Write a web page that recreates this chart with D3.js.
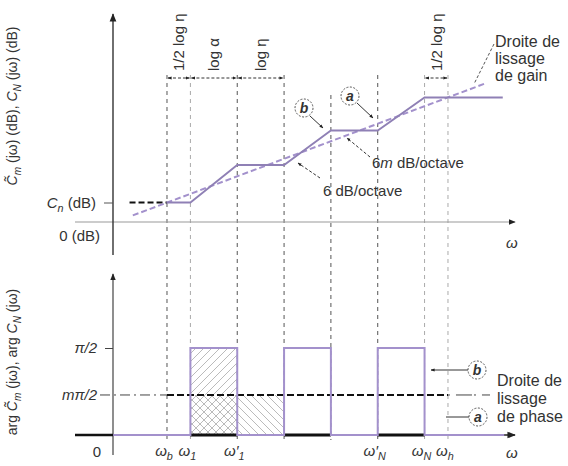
<!DOCTYPE html>
<html><head><meta charset="utf-8">
<script src="https://cdn.jsdelivr.net/npm/d3@7"></script>
<style>
body{margin:0;background:#fff;}
svg{display:block;font-family:"Liberation Sans",Arial,sans-serif;}
</style></head><body>
<script>
// ---- data (log-frequency units, log η = log α = 1) ----
const breakPos   = [0, 0.5, 1.5, 2.5, 3.5, 4.5, 5.5, 6];
const breakStyle = ["s","f","s","s","s","s","f","f"];
const axisLabels = [
  {pos:0,   base:"ω", sub:"b", prime:false},
  {pos:0.5, base:"ω", sub:"1", prime:false},
  {pos:1.5, base:"ω", sub:"1", prime:true},
  {pos:4.5, base:"ω", sub:"N", prime:true},
  {pos:5.5, base:"ω", sub:"N", prime:false},
  {pos:6,   base:"ω", sub:"h", prime:false}
];
const Cn = 6.5;                         // dB
const gainX = [0, 0.5, 1.5, 2.5, 3.5, 4.5, 5.5, 7.17];
const gainY = [Cn, Cn, 19, 19, 30.5, 30.5, 41.5, 41.5];   // asymptote (b)
const smoothX = [-0.73, 6.8];
const smoothY = [2.2, 46.2];            // droite de lissage de gain (a)
const m = 0.46;                          // phase level m·π/2 (in units of π/2)
const phaseX = [-1.15, 0.5, 0.5, 1.5, 1.5, 2.5, 2.5, 3.5, 3.5, 4.5, 4.5, 5.5, 5.5, 7.2];
const phaseY = [0, 0, 1, 1, 0, 0, 1, 1, 0, 0, 1, 1, 0, 0];
const stepIntervals = [[0.5,1.5],[2.5,3.5],[4.5,5.5]];
const brackets = [
  {from:0,   to:0.5, label:"1/2 log η"},
  {from:0.5, to:1.5, label:"log α"},
  {from:1.5, to:2.5, label:"log η"},
  {from:5.5, to:6,   label:"1/2 log η"}
];

const W = 568, H = 466;
const PURPLE = "#a391cc";
const svg = d3.select("body").append("svg").attr("width", W).attr("height", H);
const defs = svg.append("defs");
function arrowMarker(id, size){
  defs.append("marker").attr("id", id).attr("viewBox","0 0 10 10").attr("refX",9).attr("refY",5)
    .attr("markerWidth", size).attr("markerHeight", size).attr("orient","auto-start-reverse")
    .append("path").attr("d","M0,1 L10,5 L0,9 Z").attr("fill","#222");
}
arrowMarker("ar", 6); arrowMarker("arS", 4);
function hatch(id, dir){
  const p = defs.append("pattern").attr("id", id).attr("patternUnits","userSpaceOnUse")
    .attr("width", 8).attr("height", 8);
  p.append("path").attr("d", dir > 0 ? "M-1,9 L9,-1 M-2,2 L2,-2 M6,10 L10,6" : "M-1,-1 L9,9 M-2,6 L2,10 M6,-2 L10,2")
    .attr("stroke", "#aaa").attr("stroke-width", 0.8);
}
hatch("hatchUp", 1); hatch("hatchDown", -1);

const x = d3.scaleLinear().domain([-1.153, 7.474]).range([113, 517]);
const yG = d3.scaleLinear().domain([0, 60]).range([222, 42]);
const yP = d3.scaleLinear().domain([0, 1]).range([435, 348]);

// ---- vertical dashed break lines ----
svg.append("g").selectAll("line").data(breakPos).join("line")
  .attr("x1", d => x(d)).attr("x2", d => x(d))
  .attr("y1", (d,i) => i === 4 ? 95 : 75).attr("y2", 440)
  .attr("stroke", (d,i) => breakStyle[i] === "s" ? "#555" : "#aaa")
  .attr("stroke-width", 1).attr("stroke-dasharray", "4,4");

// ---- TOP PANEL ----
const gTop = svg.append("g");
gTop.append("line").attr("x1", 75).attr("x2", 515).attr("y1", yG(0)).attr("y2", yG(0))
  .attr("stroke", "#999").attr("stroke-width", 1.2).attr("marker-end", "url(#ar)");
gTop.append("line").attr("x1", x.range()[0]).attr("x2", x.range()[0]).attr("y1", 255).attr("y2", 14)
  .attr("stroke", "#333").attr("stroke-width", 1.4).attr("marker-end", "url(#ar)");
const yAxisTop = d3.axisLeft(yG).tickValues([Cn]).tickSize(9).tickFormat("");
gTop.append("g").attr("transform", `translate(${x.range()[0]},0)`).call(yAxisTop)
  .call(g => g.select(".domain").remove())
  .call(g => g.selectAll("line").attr("stroke", "#555"));

gTop.append("line").attr("x1", x(-0.8)).attr("x2", x(0)).attr("y1", yG(Cn)).attr("y2", yG(Cn))
  .attr("stroke", "#111").attr("stroke-width", 1.8).attr("stroke-dasharray", "6,3");
gTop.append("path").datum(d3.zip(smoothX, smoothY))
  .attr("d", d3.line().x(d => x(d[0])).y(d => yG(d[1])))
  .attr("fill", "none").attr("stroke", PURPLE).attr("stroke-width", 2).attr("stroke-dasharray", "6,3");
gTop.append("path").datum(d3.zip(gainX, gainY))
  .attr("d", d3.line().x(d => x(d[0])).y(d => yG(d[1])))
  .attr("fill", "none").attr("stroke", "#8f80b5").attr("stroke-width", 1.8);

const bY = 78;
brackets.forEach(b => {
  gTop.append("line").attr("x1", x(b.from) + 1).attr("x2", x(b.to) - 1).attr("y1", bY).attr("y2", bY)
    .attr("stroke", "#333").attr("stroke-width", 1).attr("stroke-dasharray", "3,2")
    .attr("marker-start", "url(#arS)").attr("marker-end", "url(#arS)");
  const cx = x((b.from + b.to) / 2);
  gTop.append("text").attr("transform", `translate(${cx},${bY - 7}) rotate(-90)`)
    .attr("dominant-baseline", "central").attr("font-size", 15).attr("fill", "#333")
    .text(b.label);
});

// ---- BOTTOM PANEL ----
const gBot = svg.append("g");
gBot.append("rect").attr("x", x(0.5)).attr("width", x(2.5) - x(0.5))
  .attr("y", yP(m)).attr("height", yP(0) - yP(m)).attr("fill", "url(#hatchDown)");
gBot.append("rect").attr("x", x(0.5)).attr("width", x(1.5) - x(0.5))
  .attr("y", yP(1)).attr("height", yP(0) - yP(1)).attr("fill", "url(#hatchUp)");
gBot.append("line").attr("x1", 75).attr("x2", 515).attr("y1", yP(0)).attr("y2", yP(0))
  .attr("stroke", "#222").attr("stroke-width", 1.4).attr("marker-end", "url(#ar)");
gBot.append("line").attr("x1", x.range()[0]).attr("x2", x.range()[0]).attr("y1", 455).attr("y2", 274)
  .attr("stroke", "#444").attr("stroke-width", 1.2).attr("marker-end", "url(#ar)");
const yAxisBot = d3.axisLeft(yP).tickValues([1]).tickSize(8).tickFormat("");
gBot.append("g").attr("transform", `translate(${x.range()[0]},0)`).call(yAxisBot)
  .call(g => g.select(".domain").remove())
  .call(g => g.selectAll("line").attr("stroke", "#444"));
gBot.selectAll(".z").data(stepIntervals).join("line")
  .attr("x1", d => x(d[0])).attr("x2", d => x(d[1])).attr("y1", yP(0)).attr("y2", yP(0))
  .attr("stroke", "#111").attr("stroke-width", 3);
gBot.append("line").attr("x1", 75).attr("x2", x.range()[0]).attr("y1", yP(0)).attr("y2", yP(0))
  .attr("stroke", "#111").attr("stroke-width", 2.5);
gBot.append("line").attr("x1", 100).attr("x2", x(0)).attr("y1", yP(m)).attr("y2", yP(m))
  .attr("stroke", "#444").attr("stroke-width", 1).attr("stroke-dasharray", "10,4,2,4");
gBot.append("line").attr("x1", x(6)).attr("x2", 490).attr("y1", yP(m)).attr("y2", yP(m))
  .attr("stroke", "#444").attr("stroke-width", 1).attr("stroke-dasharray", "2,6,16,2");
gBot.append("line").attr("x1", x(0)).attr("x2", x(6)).attr("y1", yP(m)).attr("y2", yP(m))
  .attr("stroke", "#111").attr("stroke-width", 2).attr("stroke-dasharray", "7,3");
gBot.append("path").datum(d3.zip(phaseX, phaseY))
  .attr("d", d3.line().x(d => x(d[0])).y(d => yP(d[1])))
  .attr("fill", "none").attr("stroke", PURPLE).attr("stroke-width", 2);

// ---- TEXT ----
const FS = 15;
function rich(g, xx, yy, parts, anchor, size, extra){
  const t = g.append("text").attr("x", xx).attr("y", yy).attr("font-size", size || FS)
    .attr("text-anchor", anchor || "start").attr("fill", "#333");
  if (extra) extra(t);
  let shift = 0;
  parts.forEach(p => {
    const s = t.append("tspan").text(p.t);
    let target = p.sub ? 4 : 0;
    s.attr("dy", target - shift); shift = target;
    if (p.sub) s.attr("font-size", (size || FS) * 0.72);
    if (p.it) s.attr("font-style", "italic");
  });
  return t;
}
rich(svg, 96, yG(Cn) + 5, [{t:"C",it:true},{t:"n",sub:true,it:true},{t:" (dB)"}], "end");
rich(svg, 100, 241, [{t:"0 (dB)"}], "end");
svg.append("text").attr("x", 506).attr("y", 248).attr("font-size", FS).attr("font-style","italic")
  .attr("fill","#333").text("ω");
rich(svg, 97, yP(1) + 5, [{t:"π/2",it:true}], "end");
rich(svg, 97, yP(m) + 5, [{t:"mπ/2",it:true}], "end");
rich(svg, 97, 457, [{t:"0"}], "middle");
svg.append("text").attr("x", 506).attr("y", 458).attr("font-size", FS).attr("font-style","italic")
  .attr("fill","#333").text("ω");
axisLabels.forEach(l => {
  rich(svg, x(l.pos) - 3, 456, [{t:l.base + (l.prime ? "′" : ""),it:true},{t:l.sub,sub:true,it:true}], "middle");
});
rich(svg, 0, 0, [{t:"C̃",it:true},{t:"m",sub:true,it:true},{t:" (jω) (dB), "},{t:"C",it:true},{t:"N",sub:true,it:true},{t:" (jω) (dB)"}],
  "middle", 14, t => t.attr("transform", "translate(17,106) rotate(-90)"));
rich(svg, 0, 0, [{t:"arg "},{t:"C̃",it:true},{t:"m",sub:true,it:true},{t:" (jω), arg "},{t:"C",it:true},{t:"N",sub:true,it:true},{t:" (jω)"}],
  "middle", 14, t => t.attr("transform", "translate(17,362) rotate(-90)"));

function circ(cx, cy, letter){
  svg.append("circle").attr("cx", cx).attr("cy", cy).attr("r", 9).attr("fill", "#fff")
    .attr("stroke", "#555").attr("stroke-width", 1).attr("stroke-dasharray", "2,1.5");
  svg.append("text").attr("x", cx).attr("y", cy + 5).attr("text-anchor", "middle")
    .attr("font-size", 14).attr("font-style", "italic").attr("font-weight", "bold").attr("fill", "#333").text(letter);
}
function leader(x1, y1, x2, y2, dashed){
  const l = svg.append("line").attr("x1", x1).attr("y1", y1).attr("x2", x2).attr("y2", y2)
    .attr("stroke", "#333").attr("stroke-width", 1).attr("marker-end", "url(#arS)");
  if (dashed) l.attr("stroke-dasharray", "3,2");
}
circ(304, 108, "b"); leader(310, 116, 323, 128);
circ(350, 96, "a"); leader(357, 103, 373, 118);
leader(370, 157, 347, 138, true);
rich(svg, 372, 168, [{t:"6"},{t:"m",it:true},{t:" dB/octave"}], "start", 15);
leader(320, 178, 298, 163, true);
rich(svg, 323, 196, [{t:"6 dB/octave"}], "start", 15);
svg.append("line").attr("x1", 494).attr("y1", 44).attr("x2", 474).attr("y2", 84)
  .attr("stroke", "#555").attr("stroke-dasharray", "3,2");
["Droite de", "lissage", "de gain"].forEach((s, i) =>
  rich(svg, 495, 47 + i * 17, [{t:s}], "start", 16));

circ(477, 370, "b"); leader(468, 370, 431, 370);
circ(478, 417, "a");
svg.append("line").attr("x1", 446).attr("x2", 469).attr("y1", 417).attr("y2", 417).attr("stroke", "#333");
["Droite de", "lissage", "de phase"].forEach((s, i) =>
  rich(svg, 497, 386 + i * 18, [{t:s}], "start", 16));
</script>
</body></html>
